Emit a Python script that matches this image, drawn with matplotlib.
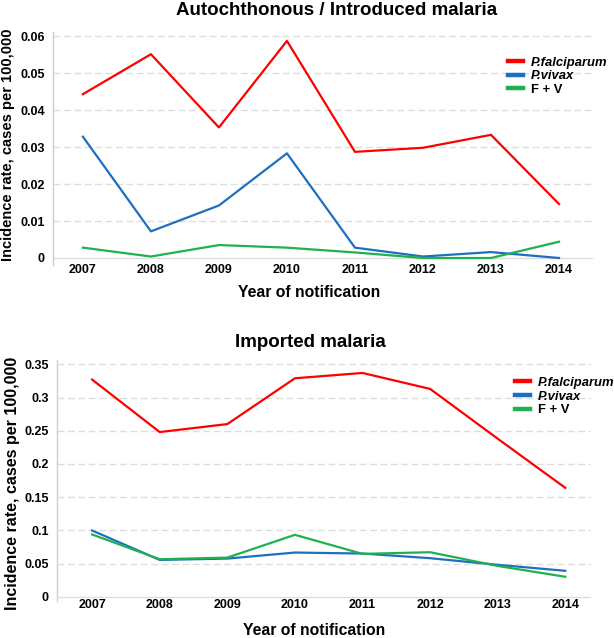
import numpy as np
import matplotlib
matplotlib.use("Agg")
import matplotlib.pyplot as plt

plt.rcParams['font.family'] = ['Liberation Sans', 'DejaVu Sans']
plt.rcParams['font.weight'] = 'bold'

years = [2007, 2008, 2009, 2010, 2011, 2012, 2013, 2014]
series_labels = ["P.falciparum", "P.vivax", "F + V"]

# Autochthonous / introduced
auto_pf = [0.0443, 0.0551, 0.0353, 0.0587, 0.0287, 0.0298, 0.0333, 0.0146]
auto_pv = [0.0328, 0.0072, 0.0142, 0.0283, 0.0028, 0.0004, 0.0016, 0.0]
auto_fv = [0.0028, 0.0004, 0.0035, 0.0028, 0.0015, 0.0, 0.0, 0.0044]
auto_yticks = [0, 0.01, 0.02, 0.03, 0.04, 0.05, 0.06]
auto_yticklabels = ["0", "0.01", "0.02", "0.03", "0.04", "0.05", "0.06"]

# Imported
imp_pf = [0.327, 0.248, 0.260, 0.329, 0.337, 0.313, 0.238, 0.164]
imp_pv = [0.0997, 0.0554, 0.0574, 0.0665, 0.065, 0.058, 0.048, 0.039]
imp_fv = [0.0937, 0.0564, 0.0589, 0.0932, 0.0645, 0.067, 0.0463, 0.030]
imp_yticks = [0, 0.05, 0.1, 0.15, 0.2, 0.25, 0.3, 0.35]
imp_yticklabels = ["0", "0.05", "0.1", "0.15", "0.2", "0.25", "0.3", "0.35"]

colors = ['#ff0000', '#1f6fc0', '#20b050']

fig = plt.figure(figsize=(6.14, 6.38), dpi=100)
ax1 = fig.add_axes([0.0863, 0.5846, 0.8795, 0.3652])
ax2 = fig.add_axes([0.0928, 0.0585, 0.8697, 0.3772])


def draw(ax, data, yticks, yticklabels, ylim, xlim, title, title_pos,
         xlab_pos, ylab_pos, ylab_size, leg_anchor):
    for vals, lab, c in zip(data, series_labels, colors):
        ax.plot(years, vals, color=c, lw=1.6, label=lab)
    ax.set_xlim(*xlim)
    ax.set_ylim(*ylim)
    for y in yticks[1:]:
        ax.axhline(y, color='#dedede', lw=1, ls=(0, (5, 2.5)), zorder=0)
    ax.axhline(0, color='#dedede', lw=1, zorder=0)
    ax.set_yticks(yticks)
    ax.set_yticklabels(yticklabels)
    ax.set_xticks(years)
    ax.set_xticklabels([str(y) for y in years])
    ax.tick_params(axis='y', length=0, pad=6, labelsize=9)
    ax.tick_params(axis='x', length=0, pad=-1, labelsize=9)
    for s in ['top', 'right', 'bottom']:
        ax.spines[s].set_visible(False)
    ax.spines['left'].set_color('#cfcfcf')
    ax.spines['left'].set_linewidth(1)
    ax.text(title_pos[0], title_pos[1], title, transform=ax.transAxes,
            ha='center', va='center', fontsize=13.5, fontweight='bold')
    ax.set_xlabel("Year of notification", fontsize=11.3, fontweight='bold',
                  va='center')
    ax.xaxis.set_label_coords(*xlab_pos)
    ax.set_ylabel("Incidence rate, cases per 100,000", fontsize=ylab_size,
                  fontweight='bold', va='center')
    ax.yaxis.set_label_coords(*ylab_pos)
    leg = ax.legend(loc='upper left', bbox_to_anchor=leg_anchor, frameon=False,
                    borderpad=0, borderaxespad=0, handlelength=1.1,
                    handletextpad=0.65, labelspacing=0.12,
                    prop={'size': 9.4, 'weight': 'bold'})
    for line in leg.get_lines():
        line.set_linewidth(3.2)
    for t in leg.get_texts()[:2]:
        t.set_fontstyle('italic')


draw(ax1, [auto_pf, auto_pv, auto_fv], auto_yticks, auto_yticklabels,
     (-0.0019, 0.0611), (2006.56, 2014.5), "Autochthonous / Introduced malaria",
     (0.526, 1.094), (0.474, -0.12), (-0.083, 0.515), 10.5, (0.843, 0.895))

draw(ax2, [imp_pf, imp_pv, imp_fv], imp_yticks, imp_yticklabels,
     (-0.006, 0.3565), (2006.48, 2014.38), "Imported malaria",
     (0.474, 1.071), (0.481, -0.126), (-0.084, 0.489), 11.5, (0.858, 0.93))

fig.savefig("out.png", dpi=100)
